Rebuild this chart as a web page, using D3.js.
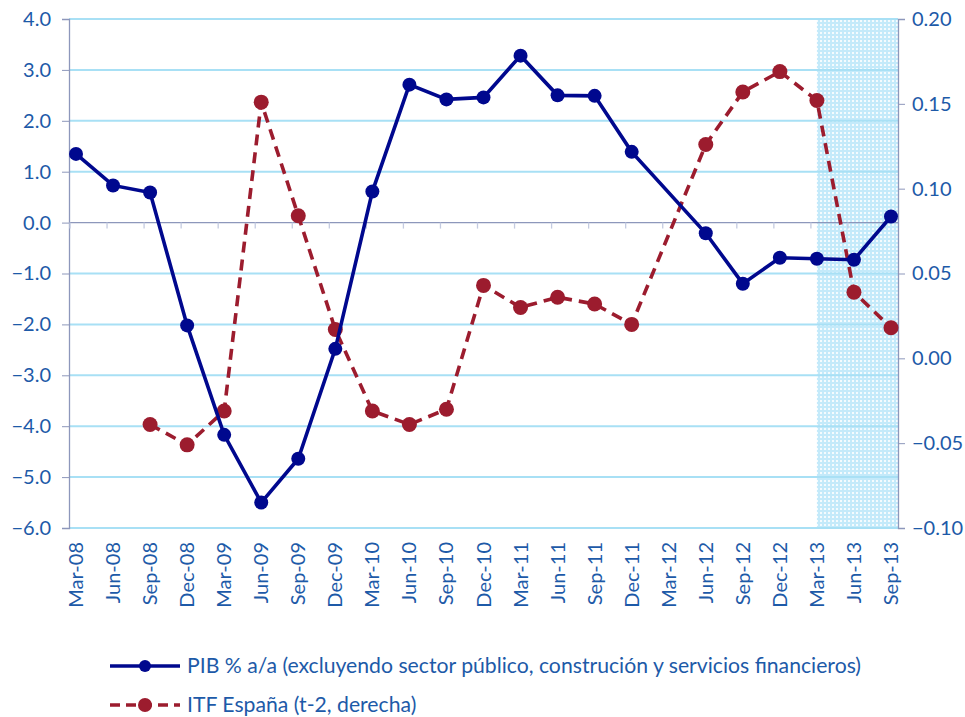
<!DOCTYPE html>
<html>
<head>
<meta charset="utf-8">
<script src="https://cdn.jsdelivr.net/npm/d3@7"></script>
<style>
body { margin: 0; background: #fff; }
text { font-family: Lato, "Open Sans", sans-serif; fill: #1d5aa8; }
</style>
</head>
<body>
<div id="chart"></div>
<script>
var quarters = ["Mar-08","Jun-08","Sep-08","Dec-08","Mar-09","Jun-09","Sep-09","Dec-09",
    "Mar-10","Jun-10","Sep-10","Dec-10","Mar-11","Jun-11","Sep-11","Dec-11",
    "Mar-12","Jun-12","Sep-12","Dec-12","Mar-13","Jun-13","Sep-13"];

// PIB % a/a (left axis)
var pib = [1.35, 0.73, 0.59, -2.02, -4.17, -5.5, -4.64, -2.48,
    0.61, 2.71, 2.42, 2.46, 3.28, 2.5, 2.49, 1.39,
    null, -0.21, -1.2, -0.69, -0.71, -0.73, 0.12];

// ITF España t-2 (right axis)
var itf = [null, null, -0.039, -0.051, -0.031, 0.151, 0.084, 0.017,
    -0.031, -0.039, -0.030, 0.043, 0.030, 0.036, 0.032, 0.020,
    null, 0.126, 0.157, 0.169, 0.152, 0.039, 0.018];

var leftTicks = [-6, -5, -4, -3, -2, -1, 0, 1, 2, 3, 4];
var rightTicks = [-0.10, -0.05, 0.00, 0.05, 0.10, 0.15, 0.20];
var shadeFrom = "Mar-13";

var pibLabel = "PIB % a/a (excluyendo sector público, construción y servicios financieros)";
var itfLabel = "ITF España (t-2, derecha)";

var width = 965, height = 717;
var pLeft = 69, pRight = 898, pTop = 19, pBottom = 528;

var svg = d3.select("#chart").append("svg")
    .attr("width", width)
    .attr("height", height);

var defs = svg.append("defs");
var pat = defs.append("pattern")
    .attr("id", "dots")
    .attr("width", 4).attr("height", 4)
    .attr("patternUnits", "userSpaceOnUse");
pat.append("rect").attr("width", 4).attr("height", 4).attr("fill", "#c4eafa");
pat.append("rect").attr("width", 2).attr("height", 2).attr("fill", "#f4fbfe");

var x = d3.scalePoint()
    .domain(quarters)
    .range([76, 891]);

var yL = d3.scaleLinear()
    .domain([-6, 4])
    .range([pBottom, pTop]);

var yR = d3.scaleLinear()
    .domain([-0.10, 0.20])
    .range([pBottom, pTop]);

// shaded forecast area
svg.append("rect")
    .attr("x", x(shadeFrom))
    .attr("y", pTop)
    .attr("width", pRight - x(shadeFrom))
    .attr("height", pBottom - pTop)
    .attr("fill", "url(#dots)");

// gridlines
svg.append("g")
    .selectAll("line")
    .data(leftTicks.filter(function(d){ return d != 0; }))
    .enter()
    .append("line")
        .attr("x1", pLeft).attr("x2", pRight)
        .attr("y1", function(d){ return yL(d); })
        .attr("y2", function(d){ return yL(d); })
        .attr("stroke", "#a8e0f5")
        .attr("stroke-width", 2);

// left axis
var axL = svg.append("g")
    .attr("transform", "translate(" + pLeft + ",0)")
    .call(d3.axisLeft(yL).tickValues(leftTicks).tickFormat(d3.format(".1f")).tickSize(7).tickPadding(11));
axL.select(".domain").attr("stroke", "#8d97bb").attr("stroke-width", 1.3);
axL.selectAll(".tick line").attr("stroke", "#8d97bb");
axL.selectAll(".tick text").style("font-size", "20px").attr("fill", "#1d5aa8");

// right axis
var axR = svg.append("g")
    .attr("transform", "translate(" + pRight + ",0)")
    .call(d3.axisRight(yR).tickValues(rightTicks).tickFormat(d3.format(".2f")).tickSize(7).tickPadding(7));
axR.select(".domain").attr("stroke", "#8d97bb").attr("stroke-width", 1.3);
axR.selectAll(".tick line").attr("stroke", "#8d97bb");
axR.selectAll(".tick text").style("font-size", "20px").attr("fill", "#1d5aa8");

// zero line with category ticks
svg.append("line")
    .attr("x1", pLeft).attr("x2", pRight)
    .attr("y1", yL(0)).attr("y2", yL(0))
    .attr("stroke", "#8d97bb").attr("stroke-width", 1.3);
svg.append("g")
    .selectAll("line")
    .data(quarters)
    .enter()
    .append("line")
        .attr("x1", function(d){ return x(d) - 6; })
        .attr("x2", function(d){ return x(d) - 6; })
        .attr("y1", yL(0)).attr("y2", yL(0) + 6)
        .attr("stroke", "#c4cbe0").attr("stroke-width", 1.3);

// x labels
svg.append("g")
    .selectAll("text")
    .data(quarters)
    .enter()
    .append("text")
        .attr("transform", function(d){ return "translate(" + (x(d) + 7) + "," + (pBottom + 14) + ") rotate(-90)"; })
        .attr("text-anchor", "end")
        .style("font-size", "20px")
        .text(function(d){ return d; });

// ITF series
var itfData = quarters.map(function(q, i){ return {q: q, v: itf[i]}; }).filter(function(d){ return d.v != null; });
svg.append("path")
    .datum(itfData)
    .attr("fill", "none")
    .attr("stroke", "#9c1c2e")
    .attr("stroke-width", 3.6)
    .attr("stroke-dasharray", "11,7")
    .attr("d", d3.line().x(function(d){ return x(d.q); }).y(function(d){ return yR(d.v); }));
svg.append("g")
    .selectAll("circle")
    .data(itfData)
    .enter()
    .append("circle")
        .attr("cx", function(d){ return x(d.q); })
        .attr("cy", function(d){ return yR(d.v); })
        .attr("r", 7.5)
        .attr("fill", "#9c1c2e");

// PIB series
var pibData = quarters.map(function(q, i){ return {q: q, v: pib[i]}; }).filter(function(d){ return d.v != null; });
svg.append("path")
    .datum(pibData)
    .attr("fill", "none")
    .attr("stroke", "#00088e")
    .attr("stroke-width", 3.6)
    .attr("d", d3.line().x(function(d){ return x(d.q); }).y(function(d){ return yL(d.v); }));
svg.append("g")
    .selectAll("circle")
    .data(pibData)
    .enter()
    .append("circle")
        .attr("cx", function(d){ return x(d.q); })
        .attr("cy", function(d){ return yL(d.v); })
        .attr("r", 7)
        .attr("fill", "#00088e");

// legend
var lg = svg.append("g");
lg.append("line").attr("x1", 110).attr("x2", 180).attr("y1", 666).attr("y2", 666)
    .attr("stroke", "#00088e").attr("stroke-width", 3.6);
lg.append("circle").attr("cx", 145).attr("cy", 666).attr("r", 6).attr("fill", "#00088e");
lg.append("text").attr("x", 187).attr("y", 673).style("font-size", "21.2px").text(pibLabel);

lg.append("line").attr("x1", 110).attr("x2", 180).attr("y1", 705).attr("y2", 705)
    .attr("stroke", "#9c1c2e").attr("stroke-width", 3.6).attr("stroke-dasharray", "10,6");
lg.append("circle").attr("cx", 145).attr("cy", 705).attr("r", 7).attr("fill", "#9c1c2e");
lg.append("text").attr("x", 187).attr("y", 712).style("font-size", "21.2px").text(itfLabel);
</script>
</body>
</html>
